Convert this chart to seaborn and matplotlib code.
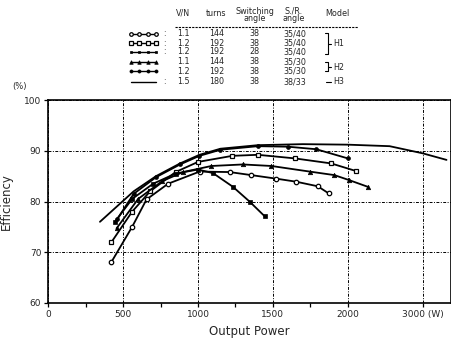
import matplotlib
matplotlib.use("Agg")
import matplotlib.pyplot as plt
from matplotlib.lines import Line2D
import seaborn as sns
import numpy as np

# ---------------- data ----------------
# row 1: V/N 1.1, 144 turns, 38, 35/40 (open circles)
x1 = [422, 560, 656, 800, 1011, 1211, 1356, 1523, 1656, 1800, 1873]
y1 = [68.1, 75.0, 80.4, 83.5, 85.9, 85.8, 85.2, 84.5, 83.9, 83.0, 81.6]
# row 2: V/N 1.2, 192 turns, 38, 35/40 (open squares)
x2 = [422, 560, 680, 850, 1000, 1230, 1400, 1645, 1890, 2056]
y2 = [72.0, 78.0, 82.0, 85.8, 87.8, 89.0, 89.2, 88.5, 87.5, 86.0]
# row 3: V/N 1.2, 192 turns, 28, 35/40 (small filled squares)
x3 = [445, 560, 700, 850, 1000, 1100, 1233, 1344, 1445]
y3 = [76.0, 80.5, 83.5, 85.5, 86.3, 85.6, 82.9, 80.0, 77.1]
# row 4: V/N 1.1, 144 turns, 38, 35/30 (triangles)
x4 = [456, 600, 760, 900, 1090, 1300, 1490, 1745, 1911, 2011, 2134]
y4 = [74.7, 80.5, 84.0, 85.8, 87.0, 87.3, 87.0, 85.9, 85.2, 84.2, 82.9]
# row 5: V/N 1.2, 192 turns, 38, 35/30 (filled dots)
x5 = [460, 570, 720, 880, 1010, 1150, 1400, 1600, 1790, 2000]
y5 = [76.5, 81.5, 84.8, 87.3, 89.0, 90.2, 90.9, 90.8, 90.3, 88.5]
# row 6: V/N 1.5, 180 turns, 38, 38/33 (solid line)
x6 = [345, 570, 720, 880, 1010, 1150, 1400, 1700, 2000, 2280, 2500, 2660]
y6 = [76.0, 82.0, 85.0, 87.5, 89.2, 90.4, 91.1, 91.3, 91.2, 90.9, 89.5, 88.2]

vn = ["1.1", "1.2", "1.2", "1.1", "1.2", "1.5"]
turns = ["144", "192", "192", "144", "192", "180"]
switching = ["38", "38", "28", "38", "38", "38"]
sr_angle = ["35/40", "35/40", "35/40", "35/30", "35/30", "38/33"]
model_labels = ["H1", "H2", "H3"]

xticks = [0, 500, 1000, 1500, 2000, 2500]
xticklabels = ["0", "500", "1000", "1500", "2000", "3000 (W)"]
yticks = [60, 70, 80, 90, 100]

series = [(x1, y1), (x2, y2), (x3, y3), (x4, y4), (x5, y5), (x6, y6)]
styles = [
    dict(marker="o", markersize=3.2, markerfacecolor="white", markeredgewidth=0.9),
    dict(marker="s", markersize=3.2, markerfacecolor="white", markeredgewidth=0.9),
    dict(marker="s", markersize=2.2, markerfacecolor="black", markeredgewidth=0.5),
    dict(marker="^", markersize=3.2, markerfacecolor="black", markeredgewidth=0.5),
    dict(marker="o", markersize=2.8, markerfacecolor="black", markeredgewidth=0.5),
    dict(marker="", markersize=0),
]

# ---------------- figure ----------------
sns.set_theme(style="white")
plt.rcParams["font.family"] = ["DejaVu Sans"]

W, H = 452, 339
fig = plt.figure(figsize=(W / 100, H / 100), dpi=100)
ax = fig.add_axes([48.3 / W, 1 - 303 / H, (451 - 48.3) / W, (303 - 100) / H])

for (xs, ys), st in zip(series, styles):
    sns.lineplot(x=xs, y=ys, ax=ax, color="black", linewidth=1.3,
                 markeredgecolor="black", sort=False, **st)

ax.set_xlim(0, 2690)
ax.set_ylim(60, 100)
ax.set_xticks(xticks)
ax.set_xticklabels(xticklabels)
ax.set_yticks(yticks)
ax.set_xticks([250, 750, 1250, 1750], minor=True)
ax.tick_params(axis="both", which="major", labelsize=6.5, length=3,
               width=0.9, direction="out", color="black", pad=2)
ax.tick_params(axis="x", which="minor", length=3, width=0.9,
               direction="out", color="black", bottom=True)
ax.tick_params(axis="both", bottom=True, left=True)
for s in ax.spines.values():
    s.set_color("black")
    s.set_linewidth(1.2)

ax.grid(True, which="major", color="black", linewidth=0.7,
        linestyle=(0, (3, 1.5, 1, 1.5)))
ax.set_axisbelow(True)

ax.set_xlabel("Output Power", fontsize=8.5, labelpad=4)
ax.set_ylabel("Efficiency", fontsize=8.5, labelpad=8)

fig.text(20 / W, 1 - 86 / H, "(%)", fontsize=6, ha="center", va="center")

# ---------------- table legend ----------------
def fx(px):
    return px / W

def fy(py):
    return 1 - py / H

fs = 5.8
fig.text(fx(183), fy(13), "V/N", fontsize=fs, ha="center", va="center")
fig.text(fx(216), fy(13), "turns", fontsize=fs, ha="center", va="center")
fig.text(fx(255), fy(15), "Switching\nangle", fontsize=fs, ha="center",
         va="center", linespacing=0.8)
fig.text(fx(294), fy(15), "S./R.\nangle", fontsize=fs, ha="center",
         va="center", linespacing=0.8)
fig.text(fx(337), fy(13), "Model", fontsize=fs, ha="center", va="center")
fig.add_artist(Line2D([fx(175), fx(358)], [fy(27), fy(27)], color="black",
                      linewidth=0.8, linestyle=(0, (2, 1))))

row_y = [34, 43, 52, 62, 71, 82]
colon = [True, True, True, False, False, True]
for i, st in enumerate(styles):
    yy = fy(row_y[i])
    kx = np.linspace(fx(131), fx(156), 4 if st["marker"] else 2)
    ms = st["markersize"] * 0.8 if st["marker"] else 0
    kst = dict(st)
    kst["markersize"] = ms
    fig.add_artist(Line2D(kx, [yy] * len(kx), color="black", linewidth=1.0,
                          markeredgecolor="black", **kst))
    if colon[i]:
        fig.text(fx(164), yy, ":", fontsize=fs, ha="center", va="center")
    fig.text(fx(183), yy, vn[i], fontsize=fs, ha="center", va="center")
    fig.text(fx(217), yy, turns[i], fontsize=fs, ha="center", va="center")
    fig.text(fx(254), yy, switching[i], fontsize=fs, ha="center", va="center")
    fig.text(fx(295), yy, sr_angle[i], fontsize=fs, ha="center", va="center")

# brackets for model groups
def bracket(y0, y1, xpos):
    fig.add_artist(Line2D([fx(xpos - 3), fx(xpos), fx(xpos), fx(xpos - 3)],
                          [fy(y0), fy(y0), fy(y1), fy(y1)],
                          color="black", linewidth=0.8))
    ym = (y0 + y1) / 2
    fig.add_artist(Line2D([fx(xpos), fx(xpos + 3)], [fy(ym), fy(ym)],
                          color="black", linewidth=0.8))

bracket(33, 54, 328)
fig.text(fx(339), fy(44), model_labels[0], fontsize=fs, ha="center", va="center")
bracket(62, 71, 328)
fig.text(fx(339), fy(67), model_labels[1], fontsize=fs, ha="center", va="center")
fig.add_artist(Line2D([fx(326), fx(331)], [fy(82), fy(82)], color="black",
                      linewidth=0.8))
fig.text(fx(339), fy(82), model_labels[2], fontsize=fs, ha="center", va="center")

fig.savefig("out.png", dpi=100)
